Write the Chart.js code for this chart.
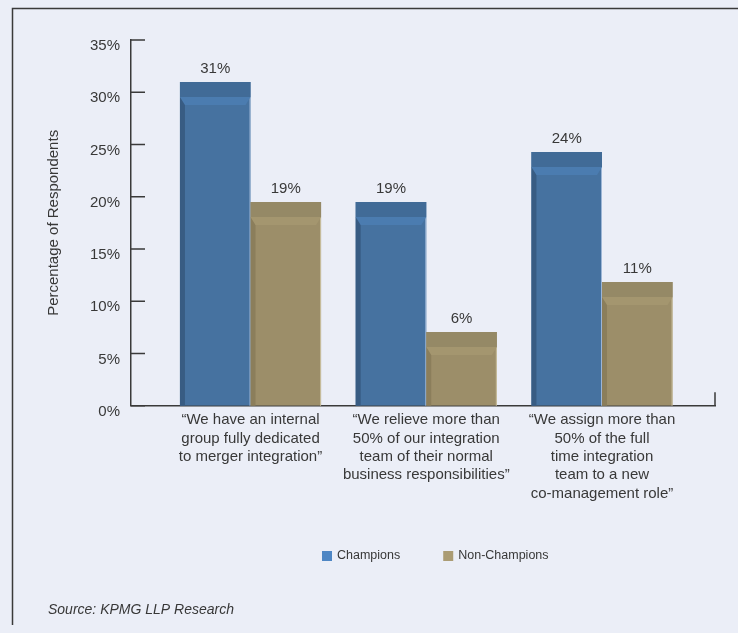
<!DOCTYPE html>
<html>
<head>
<meta charset="utf-8">
<title>Integration practices: Champions vs Non-Champions</title>
<script src="https://cdn.jsdelivr.net/npm/chart.js@4.4.1/dist/chart.umd.min.js"></script>
<style>
  html, body { margin: 0; padding: 0; background: #ebeef7; }
  #wrap { position: relative; width: 738px; height: 633px; }
</style>
</head>
<body>
<div id="wrap"><canvas id="chart"></canvas></div>
<script>
// ---- data ----
const categories = [
  ['\u201CWe have an internal', 'group fully dedicated', 'to merger integration\u201D'],
  ['\u201CWe relieve more than', '50% of our integration', 'team of their normal', 'business responsibilities\u201D'],
  ['\u201CWe assign more than', '50% of the full', 'time integration', 'team to a new', 'co-management role\u201D']
];
const seriesNames = ['Champions', 'Non-Champions'];
const champions = [31, 19, 24];
const nonChampions = [19, 6, 11];
const yAxisTitle = 'Percentage of Respondents';
const sourceNote = 'Source: KPMG LLP Research';

// ---- look ----
const FONT = "'Liberation Sans', Arial, Helvetica, sans-serif";
const TEXT = '#383838';
const AXIS = '#3a3a3a';
const BG = '#ebeef7';
const shades = [
  { face: '#4672a0', cap: '#416b97', bevel: '#4b7cb0', side: '#385c83', edge: '#9db6d6', key: '#4e86c4' },
  { face: '#9c8e69', cap: '#958966', bevel: '#a4966f', side: '#8b7e5b', edge: '#c9bf9f', key: '#ab9c74' }
];
const CAP = 15, BEVEL = 8, SIDE = 5;
const PAD = { top: 40, right: 23, bottom: 100, left: 45 };
const AXIS_LEFT = 131, AXIS_BOTTOM = 405.7, H = 633;

// background, frame, axis ticks, legend and source note
const framePlugin = {
  id: 'frame',
  beforeDraw(chart) {
    const { ctx, width, height } = chart;
    ctx.save();
    ctx.fillStyle = BG;
    ctx.fillRect(0, 0, width, height);
    ctx.strokeStyle = AXIS;
    ctx.lineWidth = 1.5;
    ctx.beginPath();
    ctx.moveTo(12.5, 625);
    ctx.lineTo(12.5, 8.5);
    ctx.lineTo(width, 8.5);
    ctx.stroke();
    ctx.restore();
  },
  afterDraw(chart) {
    const { ctx, chartArea } = chart;
    const y = chart.scales.y;
    ctx.save();
    // inward tick marks on the value axis
    ctx.strokeStyle = AXIS;
    ctx.lineWidth = 1.5;
    ctx.beginPath();
    y.ticks.forEach((t, i) => {
      const py = y.getPixelForTick(i);
      ctx.moveTo(chartArea.left, py);
      ctx.lineTo(chartArea.left + 14, py);
    });
    // closing tick at the right end of the category axis
    ctx.moveTo(chartArea.right, chartArea.bottom);
    ctx.lineTo(chartArea.right, chartArea.bottom - 13.5);
    ctx.stroke();

    // legend
    ctx.font = `12.5px ${FONT}`;
    ctx.textBaseline = 'middle';
    ctx.textAlign = 'left';
    let lx = 322;
    chart.data.datasets.forEach((ds, di) => {
      ctx.fillStyle = shades[di].key;
      ctx.fillRect(lx, 551, 10, 10);
      ctx.fillStyle = TEXT;
      ctx.fillText(ds.label, lx + 15, 556);
      lx += 15 + ctx.measureText(ds.label).width + 43;
    });

    // source note
    ctx.font = `italic 14px ${FONT}`;
    ctx.fillStyle = TEXT;
    ctx.fillText(sourceNote, 48, 610);
    ctx.restore();
  }
};

// raised-box shading on each bar plus its value label
const bar3dPlugin = {
  id: 'bar3d',
  afterDatasetsDraw(chart) {
    const ctx = chart.ctx;
    ctx.save();
    chart.data.datasets.forEach((ds, di) => {
      const meta = chart.getDatasetMeta(di);
      const st = shades[di];
      meta.data.forEach((bar, i) => {
        const { x, y, base, width } = bar.getProps(['x', 'y', 'base', 'width'], true);
        const l = x - width / 2, r = x + width / 2;
        // left side face
        ctx.fillStyle = st.side;
        ctx.fillRect(l, y + CAP, SIDE, base - y - CAP);
        // light right edge
        ctx.fillStyle = st.edge;
        ctx.fillRect(r - 1, y + CAP, 1, base - y - CAP);
        // bevel below the top cap
        ctx.fillStyle = st.bevel;
        ctx.beginPath();
        ctx.moveTo(l, y + CAP);
        ctx.lineTo(r, y + CAP);
        ctx.lineTo(r - SIDE, y + CAP + BEVEL);
        ctx.lineTo(l + SIDE, y + CAP + BEVEL);
        ctx.closePath();
        ctx.fill();
        // top cap
        ctx.fillStyle = st.cap;
        ctx.fillRect(l, y, width, CAP);
        // value label
        ctx.fillStyle = TEXT;
        ctx.font = `15px ${FONT}`;
        ctx.textAlign = 'center';
        ctx.textBaseline = 'middle';
        ctx.fillText(ds.data[i].y + '%', x, y - 13.5);
      });
    });
    ctx.restore();
  }
};

const toPoints = arr => arr.map((v, i) => ({ x: i, y: v }));

new Chart(document.getElementById('chart'), {
  type: 'bar',
  data: {
    datasets: [
      { label: seriesNames[0], data: toPoints(champions), backgroundColor: shades[0].face,
        borderWidth: 0, yAxisID: 'depth', base: -1.37 },
      { label: seriesNames[1], data: toPoints(nonChampions), backgroundColor: shades[1].face,
        borderWidth: 0, yAxisID: 'depth', base: -1.37 }
    ]
  },
  options: {
    responsive: true,
    maintainAspectRatio: false,
    animation: false,
    events: [],
    categoryPercentage: 0.803,
    barPercentage: 1.0,
    layout: { padding: PAD },
    plugins: { legend: { display: false }, tooltip: { enabled: false }, title: { display: false } },
    scales: {
      x: {
        type: 'linear',
        offset: false,
        min: -0.68,
        max: 2.643,
        grid: { display: false, drawTicks: false, offset: false },
        border: { display: true, color: AXIS, width: 1.5 },
        ticks: {
          stepSize: 1, includeBounds: false, autoSkip: false, maxRotation: 0, minRotation: 0,
          padding: 5.5, color: TEXT, font: { family: FONT, size: 15, lineHeight: 1.22 },
          callback: v => categories[Math.round(v)] || ''
        },
        afterFit: s => { s.height = H - PAD.bottom - AXIS_BOTTOM; }
      },
      y: {
        type: 'linear',
        position: 'left',
        min: 0,
        max: 35,
        grid: { display: false, drawTicks: false },
        border: { display: true, color: AXIS, width: 1.5 },
        ticks: {
          stepSize: 5, padding: 11, labelOffset: 6, color: TEXT,
          font: { family: FONT, size: 15 },
          callback: v => v + '%'
        },
        title: {
          display: true, text: yAxisTitle, color: TEXT, padding: 0,
          font: { family: FONT, size: 15, lineHeight: 1.2 }
        },
        afterFit: s => { s.width = AXIS_LEFT - PAD.left; }
      },
      // bar floor sits a little below the zero line to give the boxes depth
      depth: {
        type: 'linear',
        position: 'left',
        display: false,
        min: -1.37,
        max: 35.2
      }
    }
  },
  plugins: [framePlugin, bar3dPlugin]
});
</script>
</body>
</html>
